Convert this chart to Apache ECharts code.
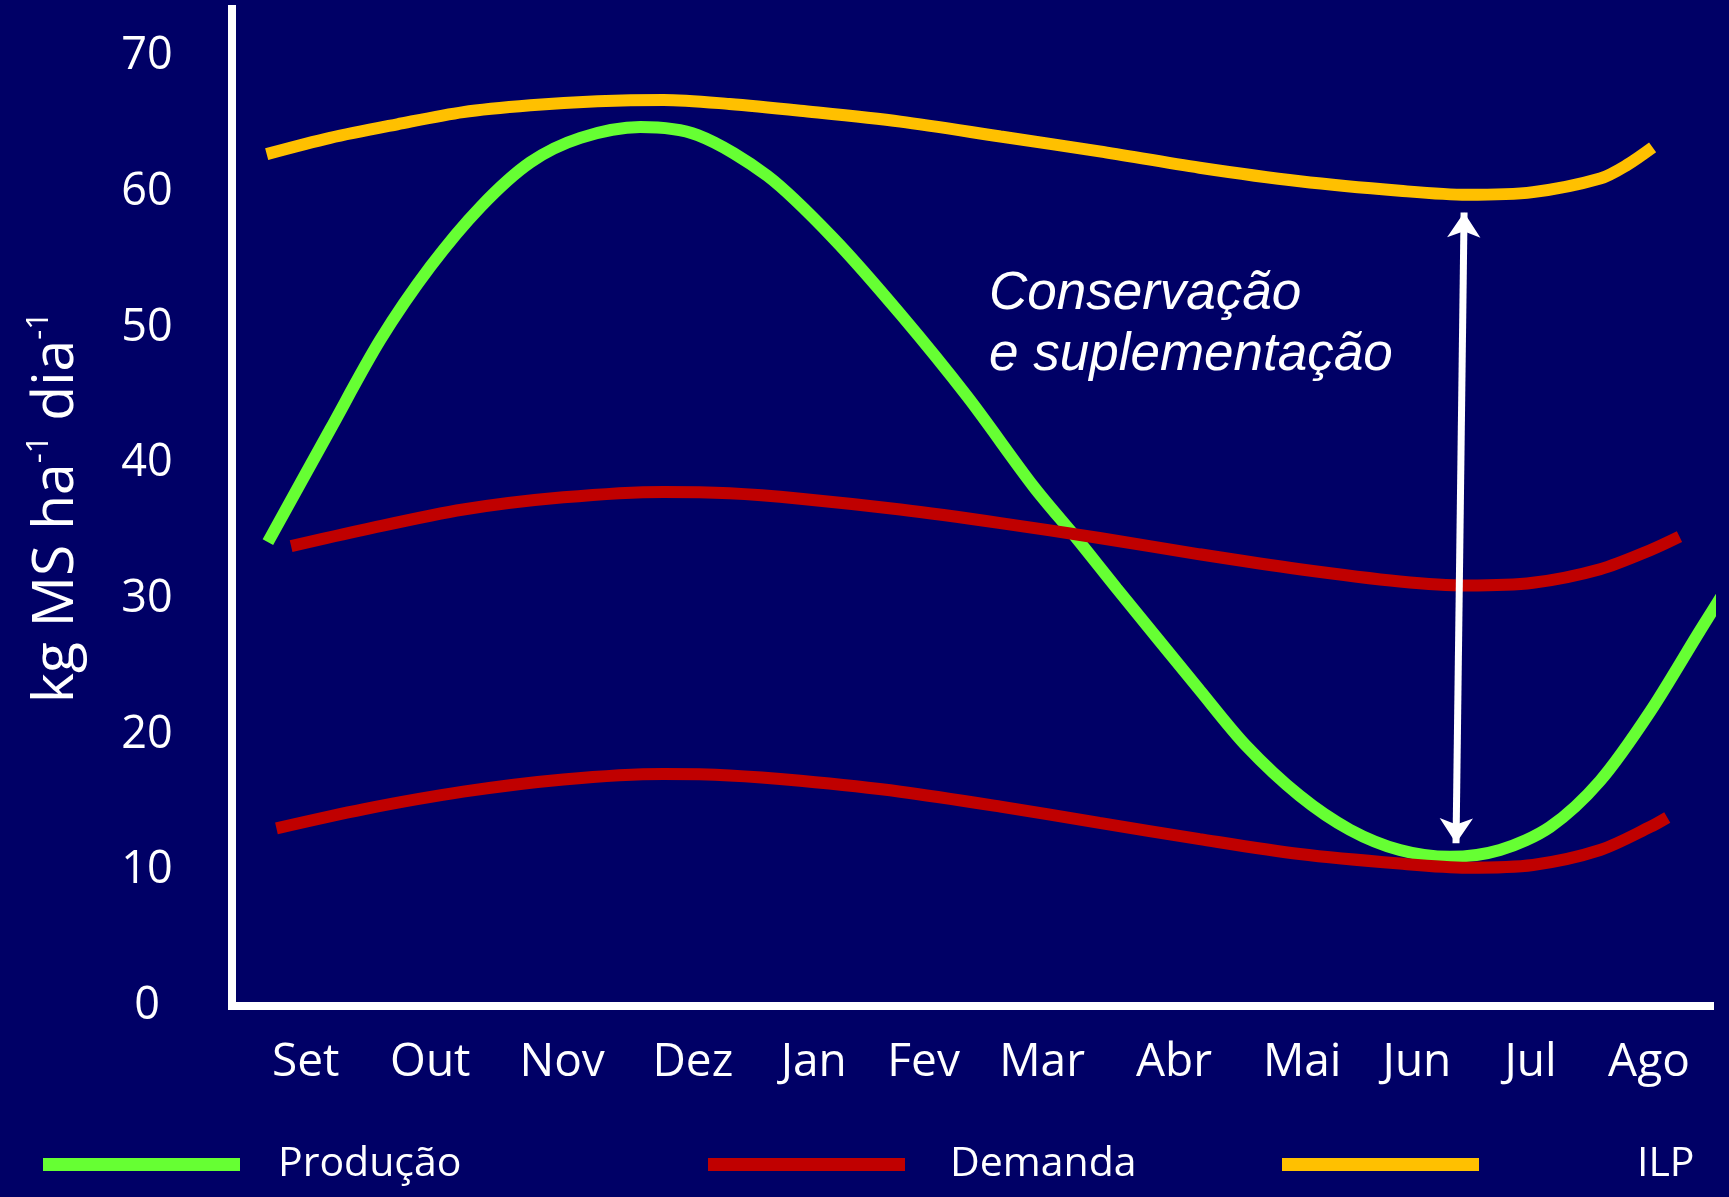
<!DOCTYPE html>
<html>
<head>
<meta charset="utf-8">
<script src="https://cdn.jsdelivr.net/npm/echarts@6/dist/echarts.min.js"></script>
<style>
html,body{margin:0;padding:0;background:#000066;}
#c{width:1729px;height:1197px;}
</style>
</head>
<body>
<div id="c"></div>
<script>
// Categories and their tick positions (as drawn) on the month scale
const months = ['Set','Out','Nov','Dez','Jan','Fev','Mar','Abr','Mai','Jun','Jul','Ago'];
const monthPos = [-0.01, 1.01, 2.09, 3.16, 4.15, 5.05, 6.02, 7.1, 8.15, 9.09, 10.02, 10.99];
const yTicks = [0,10,20,30,40,50,60,70];

// Series values: [month position, kg MS/ha/dia]
const producao = [[-0.32,34.2],[0.19,42.5],[0.60,49.1],[1.01,54.5],[1.42,58.9],[1.83,62.2],[2.24,64.0],[2.73,64.8],[3.2,64.2],[3.77,61.2],[4.31,56.6],[4.86,51.0],[5.41,44.9],[5.95,38.3],[6.31,34.4],[6.63,30.8],[7.31,23.3],[7.69,19.2],[8.13,15.5],[8.54,13.0],[8.95,11.5],[9.36,11.0],[9.77,11.5],[10.18,13.2],[10.59,16.6],[11.0,21.7],[11.41,27.7],[11.66,31.3]];
const demandaAlta = [[-0.13,33.9],[0.46,35.1],[1.28,36.6],[2.10,37.5],[2.92,37.9],[3.46,37.8],[4.04,37.4],[4.86,36.6],[5.68,35.6],[6.49,34.5],[7.31,33.3],[8.13,32.2],[8.95,31.3],[9.50,31.0],[10.04,31.2],[10.59,32.2],[11.0,33.6],[11.24,34.6]];
const demandaBaixa = [[-0.25,13.1],[0.46,14.5],[1.28,15.8],[2.10,16.7],[2.92,17.1],[3.46,17.0],[4.04,16.6],[4.86,15.8],[5.68,14.7],[6.49,13.5],[7.31,12.3],[8.13,11.2],[8.95,10.5],[9.50,10.2],[10.04,10.4],[10.59,11.5],[11.0,13.2],[11.14,13.9]];
const ilp = [[-0.33,62.8],[0.19,64.0],[0.74,65.0],[1.28,65.9],[1.83,66.4],[2.38,66.7],[2.92,66.8],[3.46,66.5],[4.04,66.0],[4.86,65.2],[5.68,64.1],[6.49,63.0],[7.31,61.8],[8.13,60.8],[8.95,60.1],[9.50,59.8],[10.04,60.0],[10.59,61.0],[10.81,62.0],[11.02,63.3]];
// Annotation arrow endpoints (data coords)
const arrowTop = [9.476, 58.5];
const arrowBottom = [9.41, 12.0];
const annotation = 'Conservação\ne suplementação';

const GREEN = '#66FF33', RED = '#C00000', ORANGE = '#FFC000';
const chart = echarts.init(document.getElementById('c'), null, {renderer:'canvas'});

function lineSeries(name, data, color, z, extra) {
  return Object.assign({
    type: 'line', name: name, data: data, color: color,
    smooth: 0.3, showSymbol: false, symbol: 'none', clip: false, z: z,
    lineStyle: {color: color, width: 12, cap: 'butt'},
    emphasis: {disabled: true}
  }, extra || {});
}

const legendBase = {
  orient: 'horizontal', top: 1144, padding: 0, itemWidth: 197, itemHeight: 13,
  icon: 'rect', selectedMode: false
};

chart.setOption({
  backgroundColor: '#000066',
  animation: false,
  grid: {left: 232, right: 19, top: 9, bottom: 191, outerBoundsMode: 'none', containLabel: false},
  xAxis: {
    type: 'value', min: -0.614, max: 11.49,
    axisLine: {show: true, onZero: false, lineStyle: {color: '#fff', width: 8, cap: 'square'}},
    axisTick: {show: false}, splitLine: {show: false},
    axisLabel: {
      customValues: monthPos,
      formatter: function (v) {
        let best = 0;
        for (let i = 0; i < monthPos.length; i++) {
          if (Math.abs(monthPos[i] - v) < Math.abs(monthPos[best] - v)) best = i;
        }
        return months[best];
      },
      color: '#fff', fontSize: 46, fontFamily: 'Open Sans', margin: 34
    }
  },
  yAxis: {
    type: 'value', min: 0, max: 73.5,
    axisLine: {show: true, onZero: false, lineStyle: {color: '#fff', width: 8, cap: 'square'}},
    axisTick: {show: false}, splitLine: {show: false},
    axisLabel: {
      customValues: yTicks, color: '#fff', fontSize: 45, fontFamily: 'Open Sans',
      align: 'center', margin: 85
    },
    name: '{a|kg MS ha}{s|-1}{a| dia}{s|-1}',
    nameLocation: 'middle', nameRotate: 90, nameGap: 142,
    nameTextStyle: {
      color: '#fff',
      rich: {
        a: {fontSize: 57, fontFamily: 'Open Sans', color: '#fff', lineHeight: 66},
        s: {fontSize: 31, fontFamily: 'Open Sans', color: '#fff', verticalAlign: 'top', lineHeight: 40}
      }
    }
  },
  legend: [
    Object.assign({}, legendBase, {left: 43, data: ['Produção'],
      textStyle: {color: '#fff', fontSize: 41, fontFamily: 'Open Sans', padding: [0,0,0,33]}}),
    Object.assign({}, legendBase, {left: 708, data: ['Demanda'],
      textStyle: {color: '#fff', fontSize: 41, fontFamily: 'Open Sans', padding: [0,0,0,40]}}),
    Object.assign({}, legendBase, {left: 1282, data: ['ILP'],
      textStyle: {color: '#fff', fontSize: 41, fontFamily: 'Open Sans', padding: [0,0,0,153]}})
  ],
  series: [
    lineSeries('Produção', producao, GREEN, 2, {
      markLine: {
        silent: true, symbol: ['arrow', 'arrow'], symbolSize: [25, 25],
        label: {show: false}, emphasis: {disabled: true},
        lineStyle: {color: '#fff', width: 7, type: 'solid'},
        data: [[{coord: arrowTop}, {coord: arrowBottom}]]
      }
    }),
    lineSeries('Demanda', demandaAlta, RED, 4),
    lineSeries('Demanda', demandaBaixa, RED, 4),
    lineSeries('ILP', ilp, ORANGE, 5)
  ],
  graphic: [{
    type: 'text', left: 989, top: 264, z: 10,
    style: {
      text: annotation, fill: '#fff', fontSize: 53, fontStyle: 'italic',
      fontFamily: 'Liberation Sans', lineHeight: 61
    }
  }]
});
</script>
</body>
</html>
